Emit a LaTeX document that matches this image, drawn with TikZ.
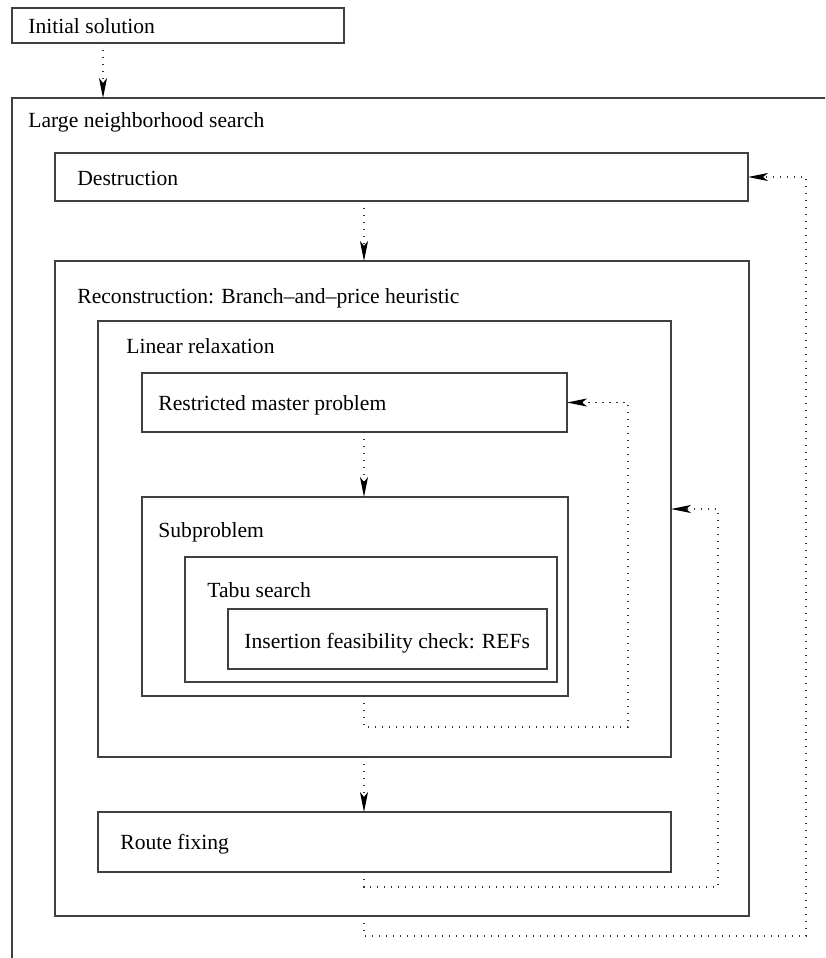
\documentclass[tikz,border=0pt]{standalone}
\usepackage{fontspec}
\setmainfont{Liberation Serif}
\usetikzlibrary{arrows.meta,fit}

\tikzset{
  frame/.style={draw=black!75,line width=0.65pt,inner sep=0pt,outer sep=0pt},
  lbl/.style={anchor=base west,inner sep=0pt,font=\fontsize{10.8}{13}\selectfont},
  flow/.style={draw=black!80,line width=0.6pt,dash pattern=on 0.6pt off 2.9pt,
    -{Stealth[length=10pt,width=4pt,inset=2.5pt,black]}},
}

\begin{document}
\begin{tikzpicture}[x=0.5pt,y=-0.5pt]
        \useasboundingbox (0,0) rectangle (825,958);
        \clip (0,0) rectangle (825,958);
        % boxes
        \node[frame,fit={(12,8) (344,43)}] (init) {};
        \node[lbl] (initlbl) at (28,33) {Initial solution};
        \node[frame,fit={(12,98) (900,1000)}] (lns) {};
        \node[lbl] (lnslbl) at (28,127) {Large neighborhood search};
        \node[frame,fit={(55,153) (748,201)}] (dest) {};
        \node[lbl] (destlbl) at (77,185) {Destruction};
        \node[frame,fit={(55,261) (749,916)}] (recon) {};
        \node[lbl] (reconlbl) at (77,303) {Reconstruction: Branch--and--price heuristic};
        \node[frame,fit={(98,321) (671,757)}] (lr) {};
        \node[lbl] (lrlbl) at (126,353) {Linear relaxation};
        \node[frame,fit={(142,373) (567,432)}] (rmp) {};
        \node[lbl] (rmplbl) at (158,410) {Restricted master problem};
        \node[frame,fit={(142,497) (568,696)}] (sub) {};
        \node[lbl] (sublbl) at (158,537) {Subproblem};
        \node[frame,fit={(185,557) (557,682)}] (tabu) {};
        \node[lbl] (tabulbl) at (207,597) {Tabu search};
        \node[frame,fit={(228,609) (547,669)}] (ins) {};
        \node[lbl] (inslbl) at (244,648) {Insertion feasibility check: REFs};
        \node[frame,fit={(98,812) (671,872)}] (rf) {};
        \node[lbl] (rflbl) at (120,849) {Route fixing};
        % connector columns and corners
        \coordinate (initx) at (103,0);
        \coordinate (axis) at (364,0);
        \coordinate (c1) at (628,727);
        \coordinate (c2) at (718,887);
        \coordinate (c3) at (806,936);
        \path (lr.east) ++(0,-30) coordinate (lrin);
        % forward arrows
        \draw[flow] (init.south -| initx) -- (lns.north -| initx);
        \draw[flow] (dest.south -| axis) -- (recon.north -| axis);
        \draw[flow] (rmp.south -| axis) -- (sub.north -| axis);
        \draw[flow] (lr.south -| axis) -- (rf.north -| axis);
        % feedback loops
        \draw[flow] (sub.south -| axis) |- (c1) |- (rmp.east);
        \draw[flow] (rf.south -| axis) |- (c2) |- (lrin);
        \draw[flow] (recon.south -| axis) |- (c3) |- (dest.east);
\end{tikzpicture}
\end{document}
